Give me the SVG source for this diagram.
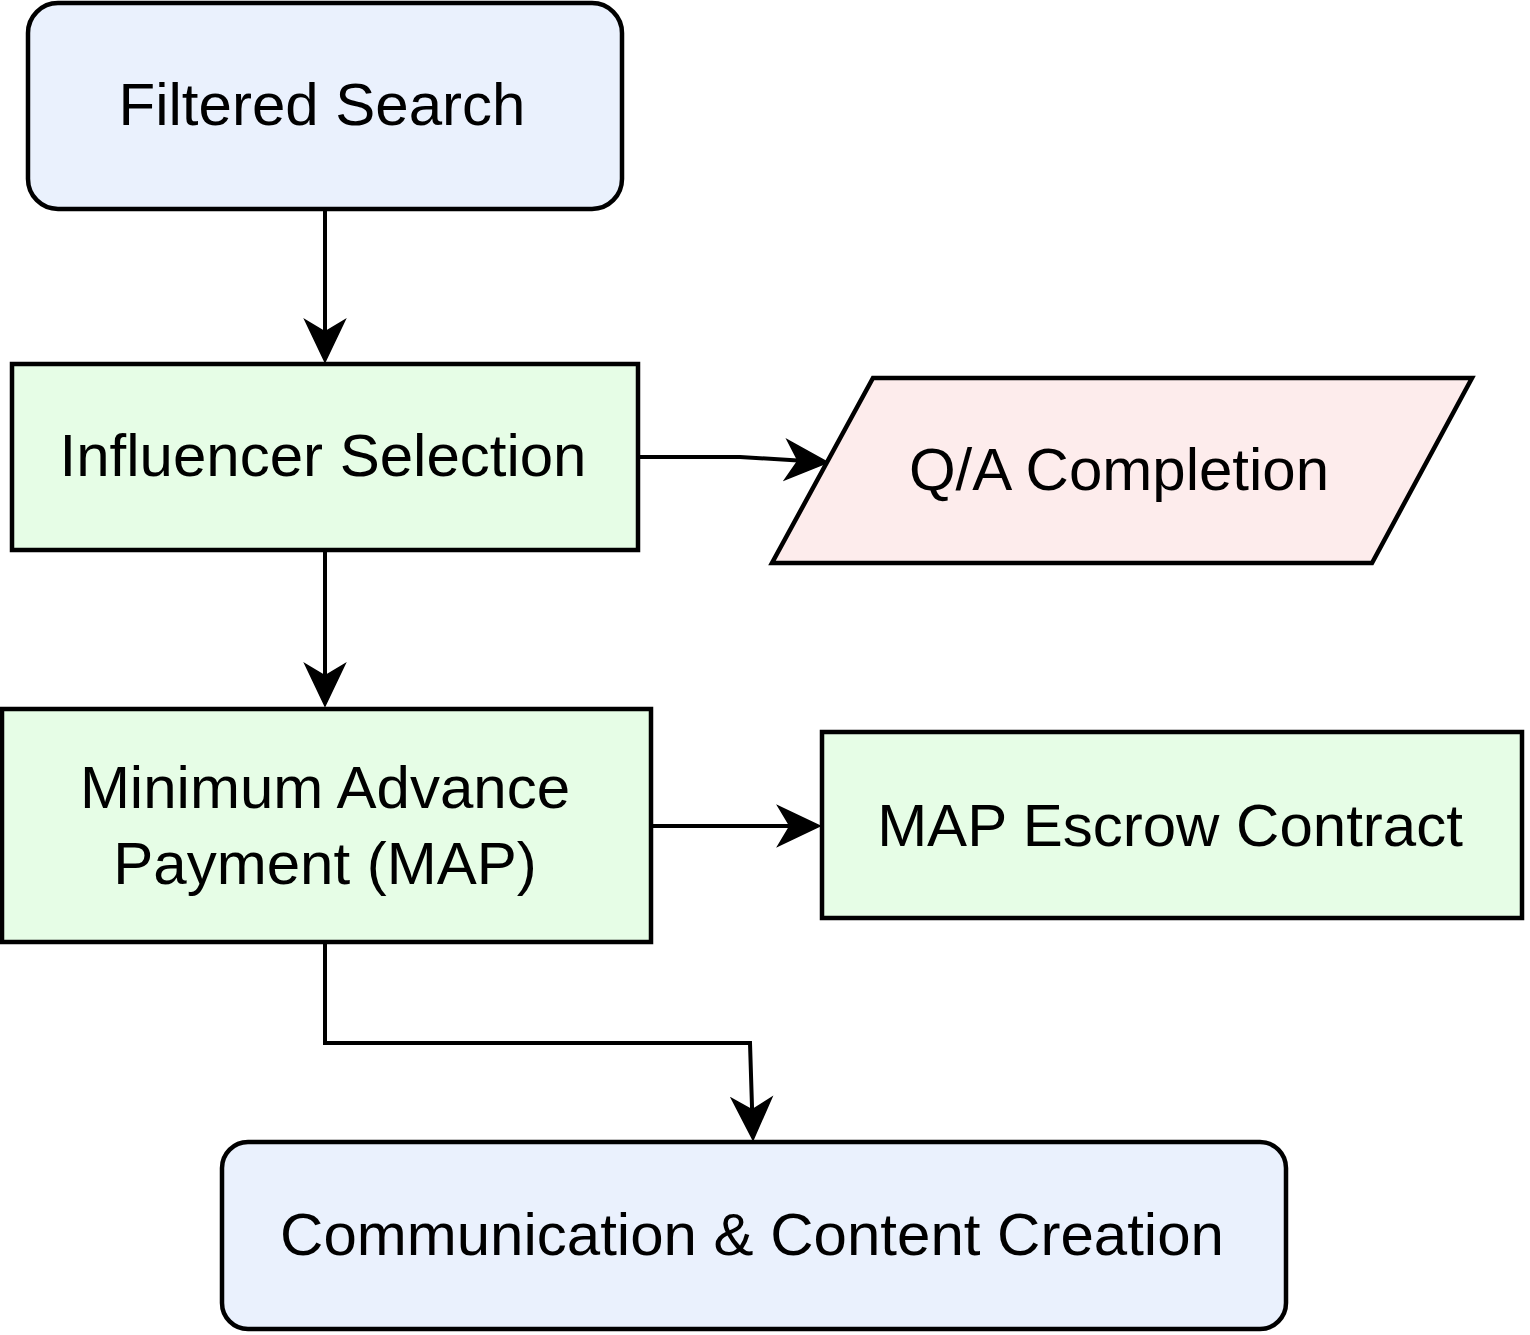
<svg xmlns="http://www.w3.org/2000/svg" width="1530" height="1335" viewBox="0 0 1530 1335">
<style>
.box{stroke:#000;stroke-width:4.5}
.blue{fill:#eaf1fd}
.green{fill:#e6fde6}
.pink{fill:#fdecec}
.lbl{font-family:"Liberation Sans",Arial,Helvetica,sans-serif;font-size:60px;fill:#000;text-anchor:middle}
.edge{fill:none;stroke:#000;stroke-width:4}
</style>
<defs>
<marker id="arr" markerUnits="userSpaceOnUse" viewBox="-14 -22 48 44" markerWidth="48" markerHeight="44" refX="0" refY="0" orient="auto">
<path d="M30,0 L-12,-20 L0,0 L-12,20 Z" fill="#000" stroke="#000" stroke-width="1.5" stroke-linejoin="miter"/>
</marker>
</defs>
<rect width="1530" height="1335" fill="#fff"/>
<g id="connectors">
<path class="edge" d="M325,209 L325,332" marker-end="url(#arr)"/>
<path class="edge" d="M638,457 L740,457 L798,460.6" marker-end="url(#arr)"/>
<path class="edge" d="M325,550 L325,676" marker-end="url(#arr)"/>
<path class="edge" d="M651,826 L790,826" marker-end="url(#arr)"/>
<path class="edge" d="M325,942 L325,1043 L750,1043 L752.1,1110" marker-end="url(#arr)"/>
</g>
<g id="filtered-search">
<rect class="box blue" x="28" y="3" width="594" height="206" rx="30" ry="30"/>
<text class="lbl" x="322" y="125">Filtered Search</text>
</g>
<g id="influencer-selection">
<rect class="box green" x="12" y="364" width="626" height="186"/>
<text class="lbl" x="323" y="476">Influencer Selection</text>
</g>
<g id="qa-completion">
<polygon class="box pink" points="873,378 1472,378 1372,563 772,563"/>
<text class="lbl" x="1119" y="490">Q/A Completion</text>
</g>
<g id="map">
<rect class="box green" x="2" y="709" width="649" height="233"/>
<text class="lbl" x="325" y="808">Minimum Advance</text>
<text class="lbl" x="325" y="884">Payment (MAP)</text>
</g>
<g id="map-escrow">
<rect class="box green" x="822" y="732" width="700" height="186"/>
<text class="lbl" x="1170" y="846">MAP Escrow Contract</text>
</g>
<g id="communication">
<rect class="box blue" x="222" y="1142" width="1064" height="187" rx="26" ry="26"/>
<text class="lbl" x="752" y="1255">Communication &amp; Content Creation</text>
</g>
</svg>
